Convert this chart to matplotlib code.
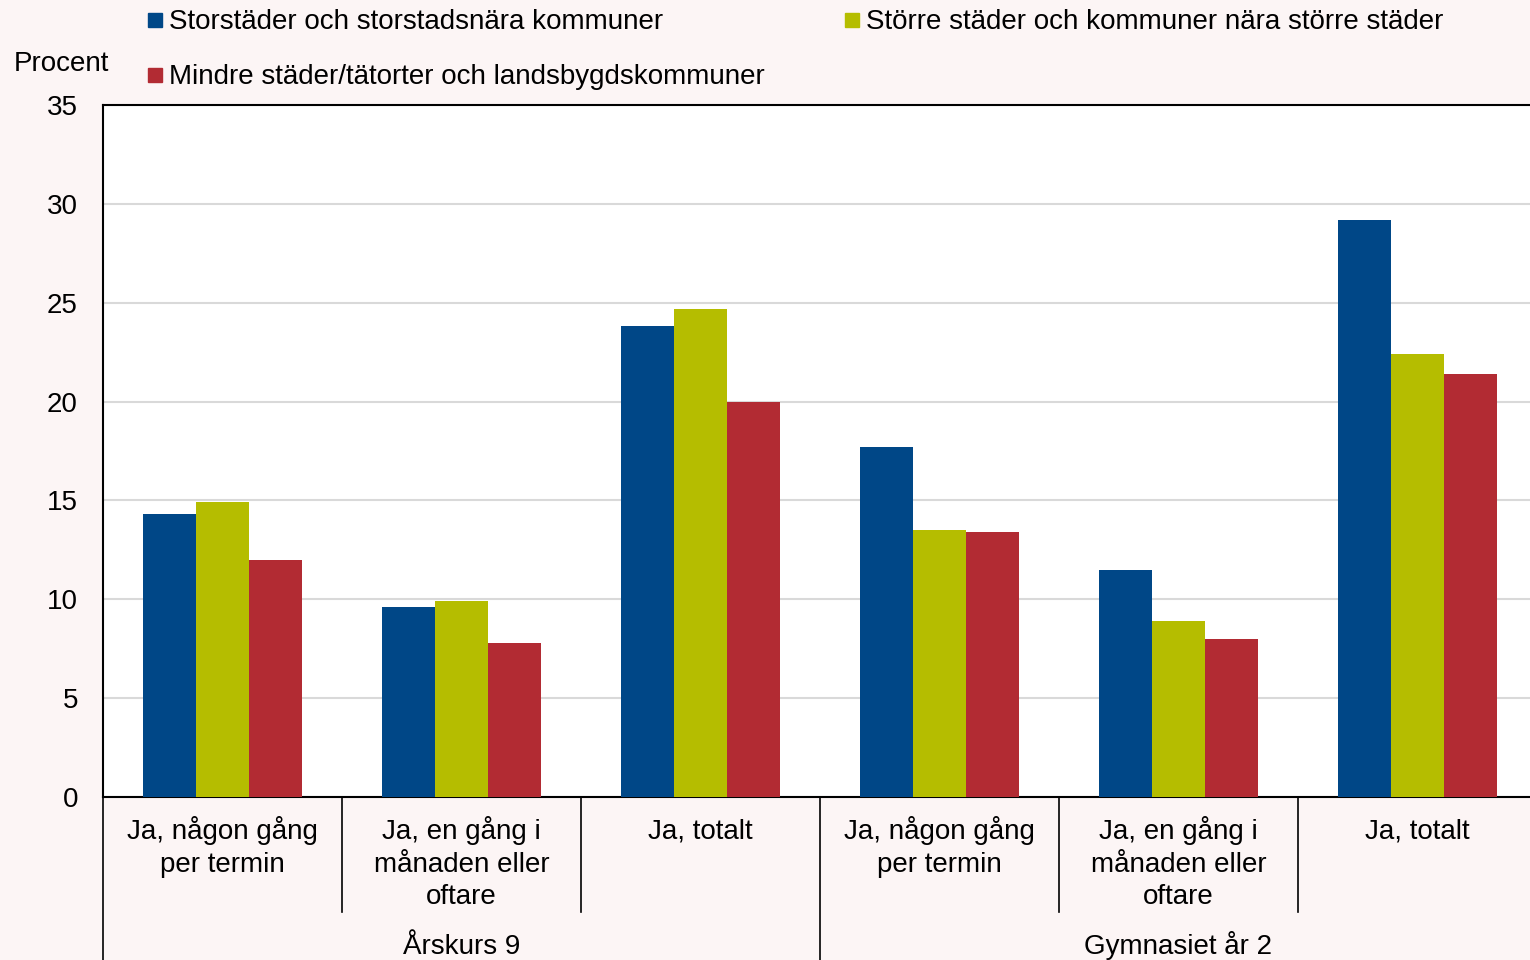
import numpy as np
import matplotlib
matplotlib.use("Agg")
from matplotlib import pyplot as plt
from matplotlib.patches import Rectangle
from matplotlib.transforms import blended_transform_factory

plt.rcParams["font.family"] = ["Liberation Sans", "DejaVu Sans"]

categories = [
    "Ja, någon gång\nper termin",
    "Ja, en gång i\nmånaden eller\noftare",
    "Ja, totalt",
    "Ja, någon gång\nper termin",
    "Ja, en gång i\nmånaden eller\noftare",
    "Ja, totalt",
]
groups = ["Årskurs 9", "Gymnasiet år 2"]
series_names = [
    "Storstäder och storstadsnära kommuner",
    "Större städer och kommuner nära större städer",
    "Mindre städer/tätorter och landsbygdskommuner",
]
storstad = [14.3, 9.6, 23.8, 17.7, 11.5, 29.2]
storre = [14.9, 9.9, 24.7, 13.5, 8.9, 22.4]
mindre = [12.0, 7.8, 20.0, 13.4, 8.0, 21.4]
colors = ["#004787", "#B5BD00", "#B22B33"]

BG = "#FCF5F5"
FS = 20
W, H = 1530, 960

fig = plt.figure(figsize=(W / 100, H / 100), dpi=100, facecolor=BG)
ax = fig.add_axes([103 / W, 163 / H, 1434 / W, 692 / H])
ax.set_facecolor("white")

x = np.arange(len(categories))
w = 0.222
for i, (vals, c) in enumerate(zip([storstad, storre, mindre], colors)):
    ax.bar(x + (i - 1) * w, vals, w, color=c, zorder=3)

ax.set_xlim(-0.5, len(categories) - 0.5)
ax.set_ylim(0, 35)
ax.set_yticks(range(0, 36, 5))
ax.tick_params(axis="y", length=0, pad=18, labelsize=FS)
ax.set_xticks([])
ax.grid(axis="y", color="#D9D9D9", lw=1.5, zorder=0)
for s in ["left", "bottom", "top"]:
    ax.spines[s].set_linewidth(1.5)
    ax.spines[s].set_color("black")
ax.spines["right"].set_visible(False)


def below(py):
    # pixel row under the axis -> axes fraction
    return -(py - 797) / 692


# category labels and separators below the axis
trans = blended_transform_factory(ax.transData, ax.transAxes)
for xi, lab in zip(x, categories):
    for k, line in enumerate(lab.split("\n")):
        ax.text(xi, below(839 + 32.5 * k), line, transform=trans,
                ha="center", va="baseline", fontsize=FS)
for b in np.arange(-0.5, len(categories), 1.0):
    depth = below(962) if b in (-0.5, 2.5, 5.5) else below(912)
    ax.plot([b, b], [0, depth], transform=trans, color="black", lw=1.2,
            clip_on=False)
for gi, g in enumerate(groups):
    ax.text(1 + 3 * gi, below(954), g, transform=trans, ha="center",
            va="baseline", fontsize=FS)

fig.text(14 / W, 1 - 71 / H, "Procent", ha="left", va="baseline",
         fontsize=FS)

# legend laid out like the original: two entries on top, one below
legend_pos = [(148, 29), (845, 29), (148, 84)]
for name, c, (px, py) in zip(series_names, colors, legend_pos):
    fig.patches.append(Rectangle((px / W, 1 - (py - 2) / H), 14 / W, 14 / H,
                                 transform=fig.transFigure, color=c))
    fig.text((px + 21) / W, 1 - py / H, name, ha="left", va="baseline",
             fontsize=FS)

fig.savefig("out.png", facecolor=BG)
